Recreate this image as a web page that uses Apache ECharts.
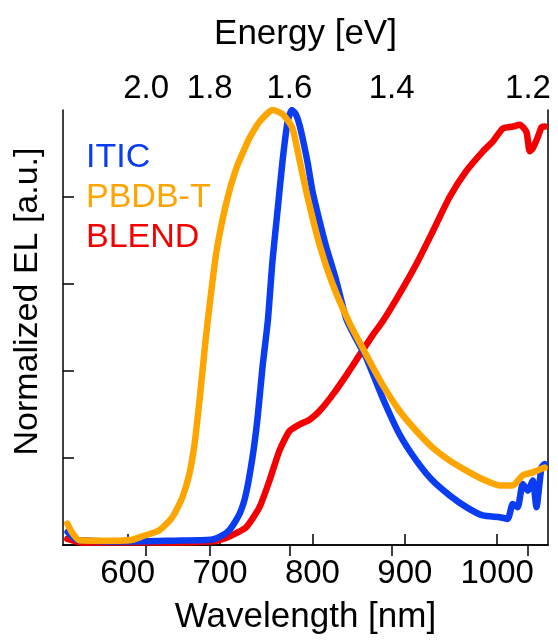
<!DOCTYPE html>
<html>
<head>
<meta charset="utf-8">
<script src="https://cdn.jsdelivr.net/npm/echarts@6/dist/echarts.min.js"></script>
<style>
  html, body { margin: 0; padding: 0; background: #fff; }
  #chart { width: 558px; height: 640px; }
</style>
</head>
<body>
<div id="chart"></div>
<script>
// wavelength (nm) / normalized EL
const iticWl = [535, 545, 560, 600, 650, 690, 699, 710, 721, 728, 735, 740.5, 746, 751.7, 756.8, 762.2, 767.6, 773.1, 777.7, 782, 786, 789.3, 794.7, 800.1, 807.7, 815, 825.8, 836.6, 847, 858.3, 876, 894.4, 912.5, 930.1, 948.5, 966.6, 984.3, 1002.7, 1011.4, 1016.8, 1022.2, 1027.6, 1033.1, 1038.5, 1042.5, 1047.9, 1051.4]
const iticEl = [0.03, 0.012, 0.01, 0.008, 0.01, 0.012, 0.018, 0.034, 0.071, 0.117, 0.2, 0.29, 0.41, 0.515, 0.654, 0.768, 0.882, 0.973, 1.0, 0.99, 0.966, 0.936, 0.88, 0.813, 0.745, 0.685, 0.608, 0.52, 0.475, 0.43, 0.338, 0.254, 0.194, 0.148, 0.114, 0.087, 0.068, 0.064, 0.06, 0.094, 0.087, 0.14, 0.125, 0.148, 0.087, 0.178, 0.186]

const pbdbWl = [534.7, 540, 547.7, 570, 590, 605, 615.9, 634.3, 648.4, 659.3, 666.8, 672.3, 677.7, 683.1, 686.4, 695.8, 706.6, 717.4, 728, 731.9, 742.7, 757.1, 768, 778.4, 786, 794.7, 807.7, 821.8, 840.2, 858.3, 876, 894.4, 912.5, 930.1, 948.5, 966.6, 984.3, 1002.7, 1016.8, 1027.6, 1038.5, 1051.4]
const pbdbEl = [0.049, 0.028, 0.011, 0.01, 0.01, 0.012, 0.02, 0.034, 0.064, 0.11, 0.163, 0.231, 0.331, 0.445, 0.51, 0.67, 0.785, 0.865, 0.918, 0.936, 0.973, 1.0, 0.99, 0.958, 0.885, 0.8, 0.69, 0.6, 0.51, 0.437, 0.368, 0.308, 0.262, 0.224, 0.194, 0.171, 0.151, 0.137, 0.137, 0.16, 0.167, 0.178]

const blendWl = [534.7, 550, 600, 650, 690, 699.3, 713.4, 728.3, 742.7, 753.5, 764.3, 775.2, 786, 796.9, 807.7, 821.8, 836.6, 851.1, 865.1, 876.3, 894.4, 912.5, 930.5, 948.5, 966.6, 984.6, 995.4, 1006.3, 1017.1, 1024.4, 1031.6, 1035.2, 1038.8, 1044.2, 1047.9, 1051.4]
const blendEl = [0.014, 0.006, 0.006, 0.006, 0.008, 0.011, 0.023, 0.041, 0.087, 0.148, 0.217, 0.262, 0.277, 0.288, 0.308, 0.345, 0.39, 0.437, 0.482, 0.515, 0.578, 0.646, 0.722, 0.8, 0.86, 0.905, 0.928, 0.958, 0.962, 0.966, 0.95, 0.905, 0.913, 0.939, 0.96, 0.962]

const wlTicks = [600, 700, 800, 900, 1000]
const energyTicks = [2.0, 1.8, 1.6, 1.4, 1.2]
const elTicks = [0.2, 0.4, 0.6, 0.8]

const names = ['ITIC', 'PBDB-T', 'BLEND']
const colors = { ITIC: '#0a3cf2', 'PBDB-T': '#ffa500', BLEND: '#f50000' }

const font = "'Liberation Sans', Arial, sans-serif"
const zip = (xs, ys) => xs.map((x, i) => [x, ys[i]])
const energyPos = energyTicks.map((e) => 1240 / e)

const axisLine = { show: true, lineStyle: { color: '#000', width: 1.5 } }
const tick = (vals) => ({ show: true, inside: true, length: 11, lineStyle: { color: '#000', width: 1.5 }, customValues: vals })

const chart = echarts.init(document.getElementById('chart'))

const option = {
  animation: false,
  grid: { left: 63, right: 10, top: 110, bottom: 92 },
  legend: {
    orient: 'vertical',
    left: 76,
    top: 133,
    icon: 'rect',
    itemWidth: 0,
    itemHeight: 0,
    itemGap: 0,
    itemStyle: { opacity: 0 },
    lineStyle: { opacity: 0 },
    textStyle: { fontFamily: font, fontSize: 34, lineHeight: 40 },
    data: names.map((n) => ({ name: n, textStyle: { color: colors[n] } })),
  },
  xAxis: [
    {
      type: 'value',
      position: 'bottom',
      min: 530,
      max: 1055,
      name: 'Wavelength [nm]',
      nameLocation: 'middle',
      nameGap: 55,
      nameTextStyle: { fontFamily: font, fontSize: 35, color: '#000' },
      axisLine,
      axisTick: tick(wlTicks),
      splitLine: { show: false },
      axisLabel: { customValues: wlTicks, margin: 12, fontFamily: font, fontSize: 33, color: '#000', formatter: (v) => String(v) },
    },
    {
      type: 'value',
      position: 'top',
      min: 530,
      max: 1055,
      name: 'Energy [eV]',
      nameLocation: 'middle',
      nameGap: 58,
      nameTextStyle: { fontFamily: font, fontSize: 35, color: '#000' },
      axisLine,
      axisTick: tick(energyPos),
      splitLine: { show: false },
      axisLabel: {
        customValues: energyPos,
        margin: 5,
        fontFamily: font,
        fontSize: 33,
        color: '#000',
        formatter: (v) => (1240 / v).toFixed(1),
      },
    },
  ],
  yAxis: [
    {
      type: 'value',
      min: 0,
      max: 1,
      name: 'Normalized EL [a.u.]',
      nameLocation: 'middle',
      nameGap: 18,
      nameRotate: 90,
      nameTextStyle: { fontFamily: font, fontSize: 34, color: '#000', padding: [0, 0, 0, 52] },
      axisLine,
      axisTick: tick(elTicks),
      axisLabel: { show: false },
      splitLine: { show: false },
    },
    {
      type: 'value',
      position: 'right',
      min: 0,
      max: 1,
      axisLine,
      axisTick: { show: false },
      axisLabel: { show: false },
      splitLine: { show: false },
    },
  ],
  series: [
    { name: 'BLEND', data: zip(blendWl, blendEl) },
    { name: 'ITIC', data: zip(iticWl, iticEl) },
    { name: 'PBDB-T', data: zip(pbdbWl, pbdbEl) },
  ].map((s) => ({
    ...s,
    type: 'line',
    showSymbol: false,
    smooth: 0.2,
    clip: true,
    color: colors[s.name],
    lineStyle: { width: 6.5, color: colors[s.name], cap: 'round', join: 'round' },
  })),
}

chart.setOption(option)
</script>
</body>
</html>
